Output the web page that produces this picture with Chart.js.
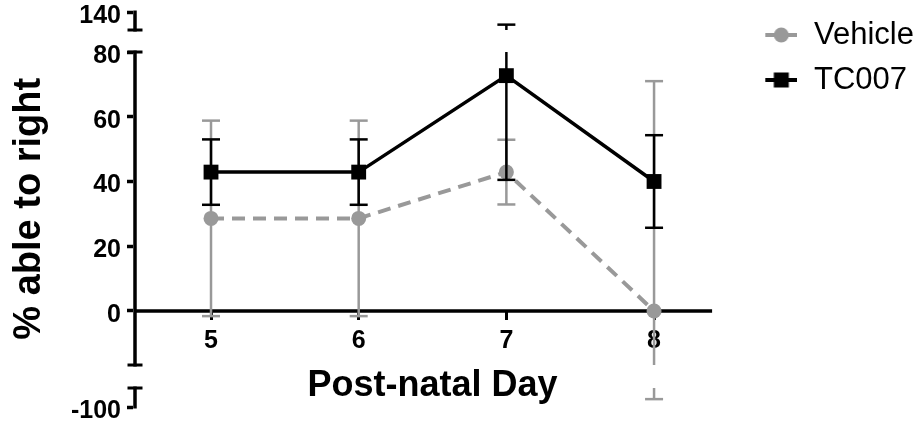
<!DOCTYPE html>
<html>
<head>
<meta charset="utf-8">
<script src="https://cdn.jsdelivr.net/npm/chart.js@4.4.1/dist/chart.umd.min.js"></script>
<style>
  html, body { margin: 0; padding: 0; background: #fff; }
  #wrap { width: 921px; height: 423px; }
</style>
</head>
<body>
<div id="wrap"><canvas id="chart"></canvas></div>
<script>
// data (mean and SEM, %)
const days = [5, 6, 7, 8];
const vehicle = [28.6, 28.6, 42.9, 0];
const vehicleErr = [30.2, 30.2, 10, 71];
const tc007 = [42.9, 42.9, 72.7, 40];
const tc007Err = [10.1, 10.1, 32.2, 14.3];
const yTicks = [-100, 0, 20, 40, 60, 80, 140];

// the y axis is broken in three pieces (from/to = share of the plot height, 0 is the top)
const yPieces = [
    { min: 90, max: 140, from: 0.0492, to: 0.0038 },
    { min: -16.7, max: 80, from: 0.8941, to: 0.1047 },
    { min: -100, max: -30, from: 1, to: 0.9521 }
];
const xLineEnd = 8.393;
const grey = '#999999';

Chart.defaults.font.family = "'Liberation Sans', Arial, sans-serif";
Chart.defaults.color = '#000';

class BrokenAxis extends Chart.LinearScale {
    piecePixel(p, v) {
        const f = p.from + (p.to - p.from) * (v - p.min) / (p.max - p.min);
        return this.top + f * (this.bottom - this.top);
    }
    pieceOf(v) {
        return yPieces.find(p => v >= p.min && v <= p.max);
    }
    getPixelForValue(value) {
        const p = this.pieceOf(value);
        if (p) return this.piecePixel(p, value);
        // value in a gap: stick it to the nearest piece end
        let best = yPieces[0], d = Infinity;
        yPieces.forEach(q => {
            const dd = Math.min(Math.abs(value - q.min), Math.abs(value - q.max));
            if (dd < d) { d = dd; best = q; }
        });
        return this.piecePixel(best, Math.max(best.min, Math.min(best.max, value)));
    }
    getValueForPixel(pixel) {
        const f = (pixel - this.top) / (this.bottom - this.top);
        for (const p of yPieces) {
            if (f >= Math.min(p.from, p.to) && f <= Math.max(p.from, p.to)) {
                return p.min + (p.max - p.min) * (f - p.from) / (p.to - p.from);
            }
        }
        return NaN;
    }
    drawBorder() {
        const ctx = this.ctx;
        const x = this.right;
        const cap = 7.5;
        ctx.save();
        ctx.strokeStyle = '#000';
        yPieces.forEach((p, i) => {
            const a = this.piecePixel(p, p.max);
            const b = this.piecePixel(p, p.min);
            ctx.lineWidth = 3.5;
            ctx.beginPath();
            ctx.moveTo(x, a - 1.5);
            ctx.lineTo(x, b + 1.5);
            ctx.stroke();
            ctx.lineWidth = 3;
            if (i > 0) { // cap on top end
                ctx.beginPath(); ctx.moveTo(x - cap, a); ctx.lineTo(x + cap, a); ctx.stroke();
            }
            if (i < yPieces.length - 1) { // cap on bottom end
                ctx.beginPath(); ctx.moveTo(x - cap, b); ctx.lineTo(x + cap, b); ctx.stroke();
            }
        });
        ctx.restore();
    }
}
BrokenAxis.id = 'broken';
BrokenAxis.defaults = Chart.LinearScale.defaults;
Chart.register(BrokenAxis);

// SEM whiskers, cut where the y axis is broken
const errorBars = {
    id: 'errorBars',
    beforeDatasetDraw(chart, args) {
        const ds = chart.data.datasets[args.index];
        const xs = chart.scales.x, ys = chart.scales.y;
        const ctx = chart.ctx;
        ctx.save();
        ctx.strokeStyle = ds.borderColor;
        ctx.lineWidth = ds.errWidth;
        ds.data.forEach((pt, i) => {
            const x = xs.getPixelForValue(pt.x);
            const lo = pt.y - ds.errors[i], hi = pt.y + ds.errors[i];
            yPieces.forEach(p => {
                const a = Math.max(lo, p.min), b = Math.min(hi, p.max);
                if (a < b) {
                    ctx.beginPath();
                    ctx.moveTo(x, ys.getPixelForValue(a));
                    ctx.lineTo(x, ys.getPixelForValue(b));
                    ctx.stroke();
                }
            });
            [lo, hi].forEach(v => {
                if (!ys.pieceOf(v)) return;
                const y = ys.getPixelForValue(v);
                ctx.beginPath();
                ctx.moveTo(x - 9, y);
                ctx.lineTo(x + 9, y);
                ctx.stroke();
            });
        });
        ctx.restore();
    }
};

// x axis line stops a little past the last day, as in the figure
const xAxisLine = {
    id: 'xAxisLine',
    beforeDatasetsDraw(chart) {
        const {ctx, chartArea, scales} = chart;
        const y = scales.y.getPixelForValue(0);
        ctx.save();
        ctx.strokeStyle = '#000';
        ctx.lineWidth = 3.5;
        ctx.beginPath();
        ctx.moveTo(chartArea.left, y);
        ctx.lineTo(scales.x.getPixelForValue(xLineEnd), y);
        ctx.stroke();
        ctx.restore();
    }
};

// legend marker: line with the point on it, sitting at the right of a wider box
function legendIcon(color, square) {
    const c = document.createElement('canvas');
    c.width = 52; c.height = 16;
    const g = c.getContext('2d');
    g.strokeStyle = color; g.fillStyle = color; g.lineWidth = 4;
    g.beginPath(); g.moveTo(20, 8); g.lineTo(52, 8); g.stroke();
    if (square) {
        g.fillRect(36 - 7.5, 0.5, 15, 15);
    } else {
        g.beginPath(); g.arc(36, 8, 7.5, 0, Math.PI * 2); g.fill();
    }
    return c;
}

const ctx = document.getElementById('chart').getContext('2d');
new Chart(ctx, {
    type: 'line',
    data: {
        datasets: [{
            label: 'Vehicle',
            data: days.map((d, i) => ({ x: d, y: vehicle[i] })),
            errors: vehicleErr,
            errWidth: 2.5,
            borderColor: grey,
            borderWidth: 4,
            borderDash: [13, 8],
            pointStyle: 'circle',
            pointRadius: 7.5,
            pointBorderWidth: 0,
            pointBackgroundColor: grey,
            order: 2,
            clip: false
        }, {
            label: 'TC007',
            data: days.map((d, i) => ({ x: d, y: tc007[i] })),
            errors: tc007Err,
            errWidth: 2.5,
            borderColor: '#000',
            borderWidth: 3.5,
            pointStyle: 'rect',
            pointRadius: 10.5,
            pointBorderWidth: 0,
            pointBackgroundColor: '#000',
            order: 1,
            clip: false
        }]
    },
    options: {
        responsive: true,
        maintainAspectRatio: false,
        animation: false,
        layout: { padding: { top: 5.5, right: -3, bottom: 16, left: 0 } },
        scales: {
            x: {
                type: 'linear',
                position: { y: 0 },
                min: 4.4853,
                max: 8.5145,
                afterBuildTicks: s => { s.ticks = days.map(v => ({ value: v })); },
                afterFit: s => { s.height = 100; },
                ticks: { font: { size: 25, weight: 'bold' }, padding: 6, maxRotation: 0 },
                grid: { drawOnChartArea: false, tickLength: 9, tickWidth: 3, color: '#000' },
                border: { display: false },
                title: {
                    display: true,
                    text: 'Post-natal Day',
                    font: { size: 36, weight: 'bold' },
                    padding: { top: 0, bottom: 3 }
                }
            },
            y: {
                type: 'broken',
                position: 'left',
                min: -100,
                max: 140,
                afterBuildTicks: s => { s.ticks = yTicks.map(v => ({ value: v })); },
                afterFit: s => { s.width = 135; s.paddingTop = 0; s.paddingBottom = 0; },
                ticks: { font: { size: 25, weight: 'bold' }, padding: 6, labelOffset: 4 },
                grid: { drawOnChartArea: false, tickLength: 8, tickWidth: 3.5, color: '#000' },
                border: { display: true, width: 3.5, color: '#000' },
                title: {
                    display: true,
                    text: '% able to right',
                    font: { size: 38, weight: 'bold' },
                    padding: { top: 7, bottom: 0 }
                }
            }
        },
        plugins: {
            legend: {
                position: 'right',
                align: 'start',
                labels: {
                    usePointStyle: true,
                    pointStyleWidth: 54.5,
                    padding: 14,
                    font: { size: 31 },
                    generateLabels: chart => chart.data.datasets.map((ds, i) => ({
                        text: ds.label,
                        pointStyle: legendIcon(ds.borderColor, ds.pointStyle === 'rect'),
                        fontColor: '#000',
                        fillStyle: ds.borderColor,
                        strokeStyle: ds.borderColor,
                        lineWidth: 0,
                        hidden: false,
                        datasetIndex: i
                    }))
                }
            },
            tooltip: { enabled: false }
        }
    },
    plugins: [errorBars, xAxisLine]
});
</script>
</body>
</html>
